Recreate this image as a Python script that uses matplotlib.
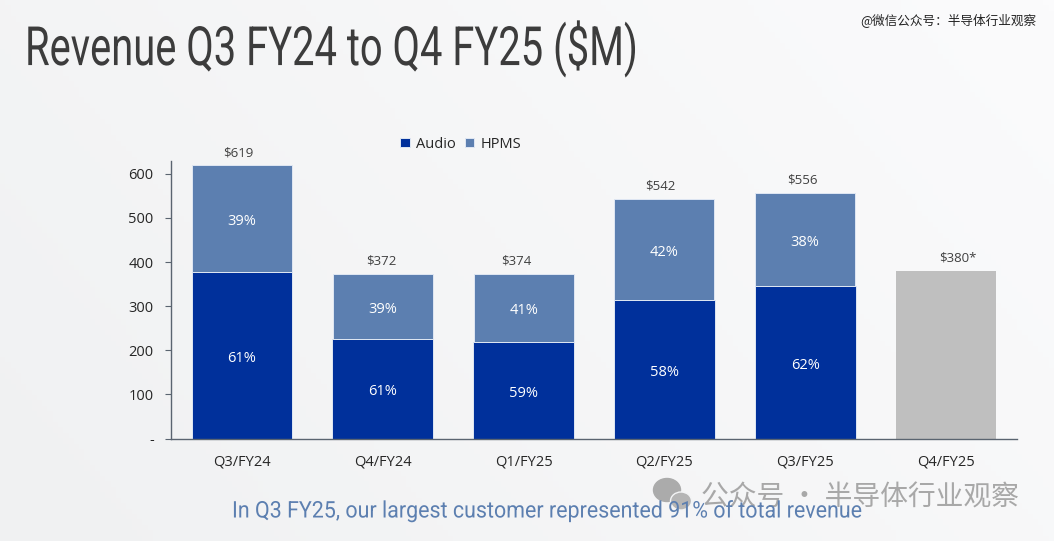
import numpy as np
import matplotlib
matplotlib.use('Agg')
import matplotlib.pyplot as plt
from matplotlib.patches import Ellipse
from matplotlib.patheffects import AbstractPathEffect
from matplotlib.transforms import Affine2D

quarters = ['Q3/FY24', 'Q4/FY24', 'Q1/FY25', 'Q2/FY25', 'Q3/FY25', 'Q4/FY25']
audio = [377, 226, 219, 315, 345]
hpms = [242, 146, 155, 227, 211]
forecast = 380
totals = ['$619', '$372', '$374', '$542', '$556', '$380*']
audio_pct = ['61%', '61%', '59%', '58%', '62%']
hpms_pct = ['39%', '39%', '41%', '42%', '38%']
yticks = [0, 100, 200, 300, 400, 500, 600]
yticklabels = ['-', '100', '200', '300', '400', '500', '600']

BLUE = '#00309b'
STEEL = '#5c7fb0'
GRAY = '#bfbfbf'
W, H = 1054, 541

cjk = ['Noto Sans CJK SC', 'DejaVu Sans']
plt.rcParams['font.family'] = ['Open Sans', 'DejaVu Sans']


# no condensed font installed, so squeeze the glyphs sideways when they are drawn
class Squeeze(AbstractPathEffect):
    def __init__(self, sx, x0):
        super().__init__()
        self.sx = sx
        self.x0 = x0

    def draw_path(self, renderer, gc, tpath, affine, rgbFace=None):
        squeeze = Affine2D().translate(-self.x0, 0).scale(self.sx, 1).translate(self.x0, 0)
        renderer.draw_path(gc, tpath, affine + squeeze, rgbFace)


def narrow_text(fig, left, right, y, s, **kw):
    t = fig.text(left / W, 1 - y / H, s, va='center', ha='left', **kw)
    width = t.get_window_extent(fig.canvas.get_renderer()).width
    t.set_path_effects([Squeeze((right - left) / width, left)])
    return t


fig = plt.figure(figsize=(W / 100, H / 100), dpi=100)

# background
bg = fig.add_axes([0, 0, 1, 1], zorder=0)
xx, yy = np.meshgrid(np.linspace(0, 1, 200), np.linspace(0, 1, 100))
bg.imshow(0.7 * xx + 0.3 * (1 - yy), extent=[0, W, H, 0], aspect='auto',
          cmap=matplotlib.colors.LinearSegmentedColormap.from_list('bg', ['#f0f1f2', '#fbfbfc']))
bg.set_xlim(0, W)
bg.set_ylim(H, 0)
bg.axis('off')

ax = fig.add_axes([171 / W, 1 - 438.5 / H, 846 / W, 277.5 / H], zorder=1)
ax.patch.set_alpha(0)
x = np.arange(len(quarters))
n = len(audio)
b1 = ax.bar(x[:n], audio, 0.716, color=BLUE, edgecolor='#dfe7f3', linewidth=0.7, label='Audio')
b2 = ax.bar(x[:n], hpms, 0.71, bottom=audio, color=STEEL, edgecolor='#dfe7f3', linewidth=0.7, label='HPMS')
ax.bar(x[n], forecast, 0.716, color=GRAY)

for i in range(n):
    ax.annotate(audio_pct[i], (x[i], audio[i] / 2), xytext=(0, -2.2), textcoords='offset points',
                ha='center', va='center', color='white', fontsize=10.5)
    ax.annotate(hpms_pct[i], (x[i], audio[i] + hpms[i] / 2), xytext=(0, -2.2), textcoords='offset points',
                ha='center', va='center', color='white', fontsize=10.5)

tops = [a + h for a, h in zip(audio, hpms)] + [forecast]
shift = [-4, -1, -7, -4, -3, 12]
for i, t in enumerate(totals):
    ax.annotate(t, (x[i], tops[i]), xytext=(shift[i] * 0.72, 4.6), textcoords='offset points',
                ha='center', va='bottom', fontsize=9.5, color='#404040')

ax.set_xlim(-0.504, 5.504)
ax.set_ylim(0, 629)
ax.set_xticks(x, quarters)
ax.set_yticks(yticks, yticklabels)
ax.tick_params(axis='x', length=0, pad=11.5, labelsize=10.5, labelcolor='#262626')
ax.tick_params(axis='y', length=4, width=0.8, color='#5a6470', pad=8.5, labelsize=10.5, labelcolor='#262626')
for s in ['top', 'right']:
    ax.spines[s].set_visible(False)
for s in ['left', 'bottom']:
    ax.spines[s].set_color('#5a6470')
    ax.spines[s].set_linewidth(1)

fig.legend(handles=[b1, b2], loc='center', bbox_to_anchor=(461 / W, 1 - 144 / H), ncol=2, frameon=False,
           fontsize=10.5, handlelength=0.65, handleheight=0.65, handletextpad=0.45, columnspacing=0.6,
           labelcolor='#262626')

narrow_text(fig, 25, 637, 49, 'Revenue Q3 FY24 to Q4 FY25 ($M)', family='Roboto',
            fontsize=39, color='#3c3c3c', zorder=3)
narrow_text(fig, 232, 860, 511, 'In Q3 FY25, our largest customer represented 91% of total revenue',
            family='Roboto', fontsize=16.5, color='#5c7fb0', zorder=4)

# watermarks
fig.text(1036 / W, 1 - 20 / H, '@微信公众号：半导体行业观察', family=cjk, fontsize=9.1, color='#222222',
         va='center', ha='right', zorder=3)
fig.text(701 / W, 1 - 497 / H, '公众号 · 半导体行业观察', family=cjk, fontsize=20, color='#a8a8a8',
         va='center', ha='left', zorder=3)
bg.add_patch(Ellipse((667, 490), 27, 23, color='#ababab', zorder=3))
bg.add_patch(Ellipse((681, 501), 21, 18, color='#b5b5b5', ec='#f3f4f5', zorder=3))

fig.savefig('out.png', dpi=100)
